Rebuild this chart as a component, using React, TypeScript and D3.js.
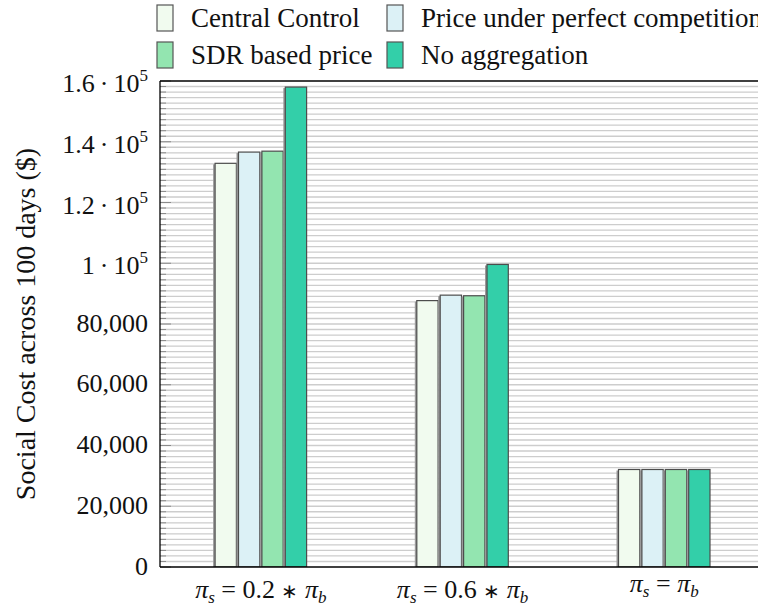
import React from "react";
import * as d3 from "d3";

const categories = ["0.2", "0.6", "1"];
const seriesNames = [
  "Central Control",
  "Price under perfect competition",
  "SDR based price",
  "No aggregation",
];
const seriesColors = ["#f1fbef", "#dcf1f6", "#93e5b0", "#33cfa9"];
// values per series, one per category
const centralControl = [132900, 87700, 32100];
const perfectCompetition = [136600, 89500, 32100];
const sdrBased = [136900, 89300, 32100];
const noAggregation = [158000, 99600, 32100];
const seriesValues = [centralControl, perfectCompetition, sdrBased, noAggregation];
const yTicks = [0, 20000, 40000, 60000, 80000, 100000, 120000, 140000, 160000];

const W = 758;
const H = 612;
const FONT = "'Liberation Serif', 'Times New Roman', serif";

function YTickLabel({ v }: { v: number }) {
  if (v >= 100000) {
    const m = v / 100000;
    const mant = m === 1 ? "1" : d3.format(".1f")(m);
    return (
      <>
        {mant}
        <tspan dx="5">·</tspan>
        <tspan dx="5">10</tspan>
        <tspan dy="-11" fontSize="17">5</tspan>
      </>
    );
  }
  return <>{d3.format(",")(v)}</>;
}

function XLabel({ c }: { c: string }) {
  const sub = (s: string) => (
    <>
      <tspan fontStyle="italic">π</tspan>
      <tspan fontStyle="italic" fontSize="17" dy="5">{s}</tspan>
    </>
  );
  if (c === "1") {
    return (
      <>
        {sub("s")}
        <tspan dy="-5"> = </tspan>
        {sub("b")}
      </>
    );
  }
  return (
    <>
      {sub("s")}
      <tspan dy="-5"> = {c} </tspan>
      <tspan fontSize="20">∗</tspan>
      <tspan> </tspan>
      {sub("b")}
    </>
  );
}

export default function App() {
  const left = 160;
  const top = 81;
  const bottom = 567;
  const x = d3.scaleBand<string>().domain(categories).range([left, left + 3 * 201.7]);
  const y = d3.scaleLinear().domain([0, 160000]).range([bottom, top]);
  const inner = d3
    .scaleBand<number>()
    .domain(d3.range(seriesNames.length))
    .range([-45.75, 45.75])
    .paddingInner(0.09);
  const cx = (c: string) => (x(c) as number) + x.bandwidth() / 2;

  const minor: number[] = [];
  for (let i = 0; i < yTicks.length - 1; i++) {
    const step = (yTicks[i + 1] - yTicks[i]) / 11;
    for (let k = 1; k < 11; k++) minor.push(yTicks[i] + k * step);
  }

  const xFont = 26;
  const labelTop = 580;

  return (
    <svg
      width={W}
      height={H}
      style={{ position: "absolute", left: 0, top: 0, background: "#fff" }}
      fontFamily={FONT}
    >
      <defs>
        <clipPath id="plotclip">
          <rect x={left} y={top} width={W - left} height={bottom - top} />
        </clipPath>
      </defs>
      {/* grid */}
      <g stroke="#cdcdcd" strokeWidth={1.3}>
        {minor.concat(yTicks.slice(1, -1)).map((v, i) => (
          <line key={i} x1={left} x2={W} y1={y(v)} y2={y(v)} />
        ))}
      </g>
      {/* left ticks */}
      <g stroke="#8a8a8a" strokeWidth={1}>
        {minor.map((v, i) => (
          <line key={"m" + i} x1={left} x2={left + 6} y1={y(v)} y2={y(v)} />
        ))}
        {yTicks.map((v, i) => (
          <line key={"M" + i} x1={left} x2={left + 11} y1={y(v)} y2={y(v)} />
        ))}
      </g>
      {/* bars */}
      <g clipPath="url(#plotclip)">
        {categories.map((c, ci) =>
          seriesValues.map((vals, si) => {
            const bx = cx(c) + (inner(si) as number);
            const bw = inner.bandwidth();
            return (
              <g key={c + si}>
                <rect
                  x={bx - 2}
                  y={y(vals[ci]) + 1}
                  width={2}
                  height={bottom - y(vals[ci]) - 1}
                  fill="#9a9a9a"
                />
                <rect
                  x={bx}
                  y={y(vals[ci])}
                  width={bw}
                  height={bottom - y(vals[ci])}
                  fill={seriesColors[si]}
                  stroke="#4d4d4d"
                  strokeWidth={1.2}
                />
              </g>
            );
          })
        )}
      </g>
      {/* frame */}
      <g stroke="#000" strokeWidth={1.3} fill="none">
        <line x1={left} x2={W} y1={top} y2={top} />
        <line x1={left} x2={W} y1={bottom} y2={bottom} />
        <line x1={left} x2={left} y1={top} y2={bottom} />
      </g>
      {/* y tick labels */}
      <g fontSize={26} textAnchor="end" fill="#111" fontFamily={FONT}>
        {yTicks.map((v) => (
          <text key={v} x={148} y={y(v) + (v >= 100000 ? 11 : 7.5)}>
            <YTickLabel v={v} />
          </text>
        ))}
      </g>
      {/* x tick labels */}
      <g fontSize={xFont} textAnchor="middle" fill="#111" fontFamily={FONT}>
        {categories.map((c) => (
          <text
            key={c}
            x={cx(c)}
            y={labelTop + (c !== "1" ? 0.68 : 0.45) * xFont}
          >
            <XLabel c={c} />
          </text>
        ))}
      </g>
      {/* y axis title */}
      <text
        transform={`translate(35,${(top + bottom) / 2}) rotate(-90)`}
        textAnchor="middle"
        fontSize={28}
        fill="#111"
        fontFamily={FONT}
      >
        Social Cost across 100 days ($)
      </text>
      {/* legend */}
      <g fontSize={27} fill="#111" fontFamily={FONT}>
        {seriesNames.map((name, i) => {
          const col = i % 2;
          const row = Math.floor(i / 2);
          const lx = col === 0 ? 157 : 387;
          const ly = 5 + row * 37;
          return (
            <g key={name}>
              <rect
                x={lx}
                y={ly}
                width={16}
                height={26}
                fill={seriesColors[i]}
                stroke="#555"
                strokeWidth={1.2}
              />
              <text x={lx + 34} y={ly + 22}>
                {name}
              </text>
            </g>
          );
        })}
      </g>
    </svg>
  );
}
